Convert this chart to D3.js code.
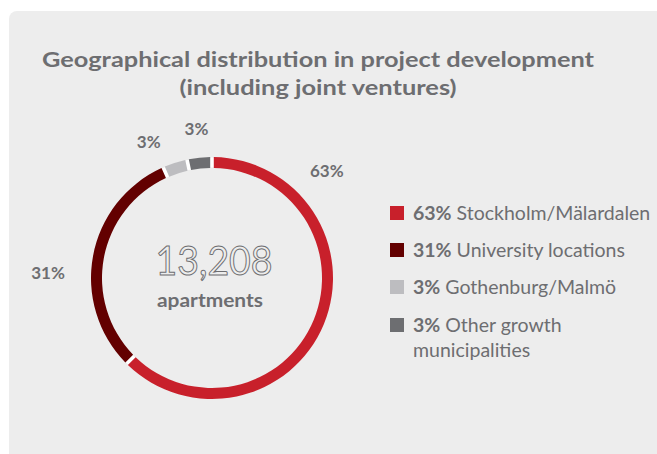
<!DOCTYPE html>
<html>
<head>
<meta charset="utf-8">
<script src="https://cdn.jsdelivr.net/npm/d3@7"></script>
<style>
  body { margin: 0; background: #fff; }
  svg { display: block; font-family: Lato, "Open Sans", sans-serif; }
</style>
</head>
<body>
<div id="chart"></div>
<script>
// data
var categories = ["Stockholm/Mälardalen", "University locations", "Gothenburg/Malmö", "Other growth municipalities"];
var shares = [63, 31, 3, 3];
var sliceColors = ["#c8202b", "#630000", "#bdbdc0", "#6d6e71"];
var titleLines = ["Geographical distribution in project development", "(including joint ventures)"];
var totalLabel = "13,208";
var unitLabel = "apartments";

var W = 657, H = 454;
var textGrey = "#6d6e71";
var cx = 212, cy = 278, rOuter = 121, rInner = 110;

var svg = d3.select("#chart").append("svg")
            .attr("width", W)
            .attr("height", H);

// panel
svg.append("rect")
   .attr("x", 9).attr("y", 11)
   .attr("width", W + 20).attr("height", H + 20)
   .attr("rx", 8)
   .attr("fill", "#ededed");

// title
svg.append("g").selectAll("text")
   .data(titleLines)
   .enter()
   .append("text")
   .attr("x", 318)
   .attr("y", (d, i) => 67 + i * 28)
   .attr("text-anchor", "middle")
   .attr("font-size", 21)
   .attr("font-weight", "bold")
   .attr("fill", textGrey)
   .attr("textLength", (d, i) => i == 0 ? 552 : 277)
   .attr("lengthAdjust", "spacingAndGlyphs")
   .text(d => d);

var data = categories.map((c, i) => ({name: c, value: shares[i], color: sliceColors[i]}));

var pie = d3.pie()
            .sort(null)
            .value(d => d.value)
            .padAngle(0.022);

var arc = d3.arc()
            .innerRadius(rInner)
            .outerRadius(rOuter);

var ring = svg.append("g")
              .attr("transform", "translate(" + cx + "," + cy + ")");

// white underlay so the gaps read white
ring.append("path")
    .attr("d", d3.arc().innerRadius(rInner + 0.5).outerRadius(rOuter - 0.5).startAngle(0).endAngle(2 * Math.PI)())
    .attr("fill", "#fff");

var arcs = pie(data);

ring.selectAll("path.slice")
    .data(arcs)
    .enter()
    .append("path")
    .attr("class", "slice")
    .attr("fill", d => d.data.color)
    .attr("d", arc);

// percentage labels: big slice label sits near its start, small ones pulled toward their start
ring.selectAll("text.pct")
    .data(arcs)
    .enter()
    .append("text")
    .attr("class", "pct")
    .attr("transform", function(d) {
        var mid = (d.startAngle + d.endAngle) / 2;
        var a = Math.min(mid, d.startAngle + 0.82);
        var r = 157;
        if (d.data.value > 20 && d.data.value < 50) r = 164;
        if (d.data.value < 5) { a = d.index == 2 ? d.startAngle - 0.02 : mid; r = 150; }
        return "translate(" + (Math.sin(a) * r) + "," + (-Math.cos(a) * r) + ")";
    })
    .attr("dy", "0.35em")
    .attr("text-anchor", "middle")
    .attr("font-size", 17)
    .attr("font-weight", "bold")
    .attr("fill", textGrey)
    .text(d => d.data.value + "%");

// centre text
svg.append("text")
   .attr("x", 214).attr("y", 275)
   .attr("text-anchor", "middle")
   .attr("font-size", 40)
   .attr("fill", "none")
   .attr("stroke", textGrey)
   .attr("stroke-width", 1)
   .attr("textLength", 117)
   .attr("lengthAdjust", "spacingAndGlyphs")
   .text(totalLabel);

svg.append("text")
   .attr("x", 210).attr("y", 307)
   .attr("text-anchor", "middle")
   .attr("font-size", 19)
   .attr("font-weight", "bold")
   .attr("fill", textGrey)
   .attr("textLength", 106)
   .attr("lengthAdjust", "spacingAndGlyphs")
   .text(unitLabel);

// legend
var rowY = [220, 257, 294, 332];
var legend = svg.append("g");
var rows = legend.selectAll("g")
                 .data(data)
                 .enter()
                 .append("g");

rows.append("rect")
    .attr("x", 390)
    .attr("y", (d, i) => rowY[i] - 14)
    .attr("width", 14).attr("height", 14)
    .attr("fill", d => d.color);

rows.each(function(d, i) {
    var t = d3.select(this).append("text")
              .attr("x", 413)
              .attr("y", rowY[i])
              .attr("font-size", 19.5)
              .attr("fill", textGrey);
    t.append("tspan").attr("font-weight", "bold").text(d.value + "%");
    if (i == 3) {
        t.append("tspan").text(" Other growth");
        t.append("tspan").attr("x", 413).attr("dy", 25).text("municipalities");
    } else {
        t.append("tspan").text(" " + d.name);
    }
});
</script>
</body>
</html>
